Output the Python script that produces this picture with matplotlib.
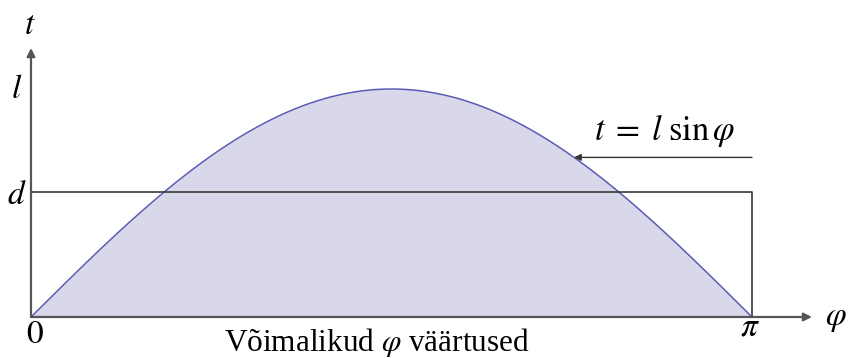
import matplotlib.pyplot as plt
import numpy as np

plt.rcParams['mathtext.fontset'] = 'stix'

# curve t = l sin(phi), with l = 1
phi = np.linspace(0, np.pi, 400)
t = np.sin(phi)
l = 1.0
d = 0.548
t_mark = 0.70          # where the label arrow touches the curve
phi_mark = np.pi - np.arcsin(t_mark)

# axes in data units; 721 px per pi, 228 px per l
px_x = np.pi / 721
px_y = 1 / 228
x0, y0 = 31, 317


def px(x, y):
    # pixel position (from top-left) -> data coords
    return (x - x0) * px_x, (y0 - y) * px_y


fig = plt.figure(figsize=(8.48, 3.58), dpi=100)
ax = fig.add_axes([0, 0, 1, 1])
ax.set_xlim(-x0 * px_x, (848 - x0) * px_x)
ax.set_ylim(-(358 - y0) * px_y, y0 * px_y)
ax.axis('off')

ax.fill_between(phi, 0, t, color='#d8d8ea', lw=0)
ax.plot(phi, t, color='#5b5bb5', lw=1.1)

axis_col = '#555555'
# rectangle phi in [0, pi], t in [0, d]
ax.plot([0, np.pi, np.pi], [d, d, 0], color='#3a3a3a', lw=1.2)

# coordinate axes with arrows
ax.annotate('', xy=px(812, y0), xytext=(0, 0),
            arrowprops=dict(arrowstyle='-|>', color=axis_col, lw=1.6,
                            mutation_scale=12, shrinkA=0, shrinkB=0))
ax.annotate('', xy=px(x0, 48), xytext=(0, 0),
            arrowprops=dict(arrowstyle='-|>', color=axis_col, lw=1.6,
                            mutation_scale=12, shrinkA=0, shrinkB=0))

# label arrow for the curve
ax.annotate('', xy=(phi_mark, t_mark), xytext=(np.pi, t_mark),
            arrowprops=dict(arrowstyle='-|>', color='#333333', lw=1.0,
                            mutation_scale=10, shrinkA=0, shrinkB=0))

fs = 24
kw = dict(fontsize=fs, ha='center', va='baseline')
ax.text(*px(30, 34), r'$t$', **kw)
ax.text(*px(17, 98), r'$l$', **kw)
ax.text(*px(17, 204), r'$d$', **kw)
ax.text(*px(35, 343), r'$0$', **kw)
ax.text(*px(750, 336), r'$\pi$', **kw)
ax.text(*px(836, 325), r'$\varphi$', **kw)
ax.text(*px(665, 140), r'$t\;=\;l\;\sin\varphi$', fontsize=25,
        ha='center', va='baseline')
ax.text(*px(377, 351), r'Võimalikud $\varphi$ väärtused',
        fontsize=22.5, family='Liberation Serif', ha='center', va='baseline')

fig.savefig('out.png', dpi=100)
